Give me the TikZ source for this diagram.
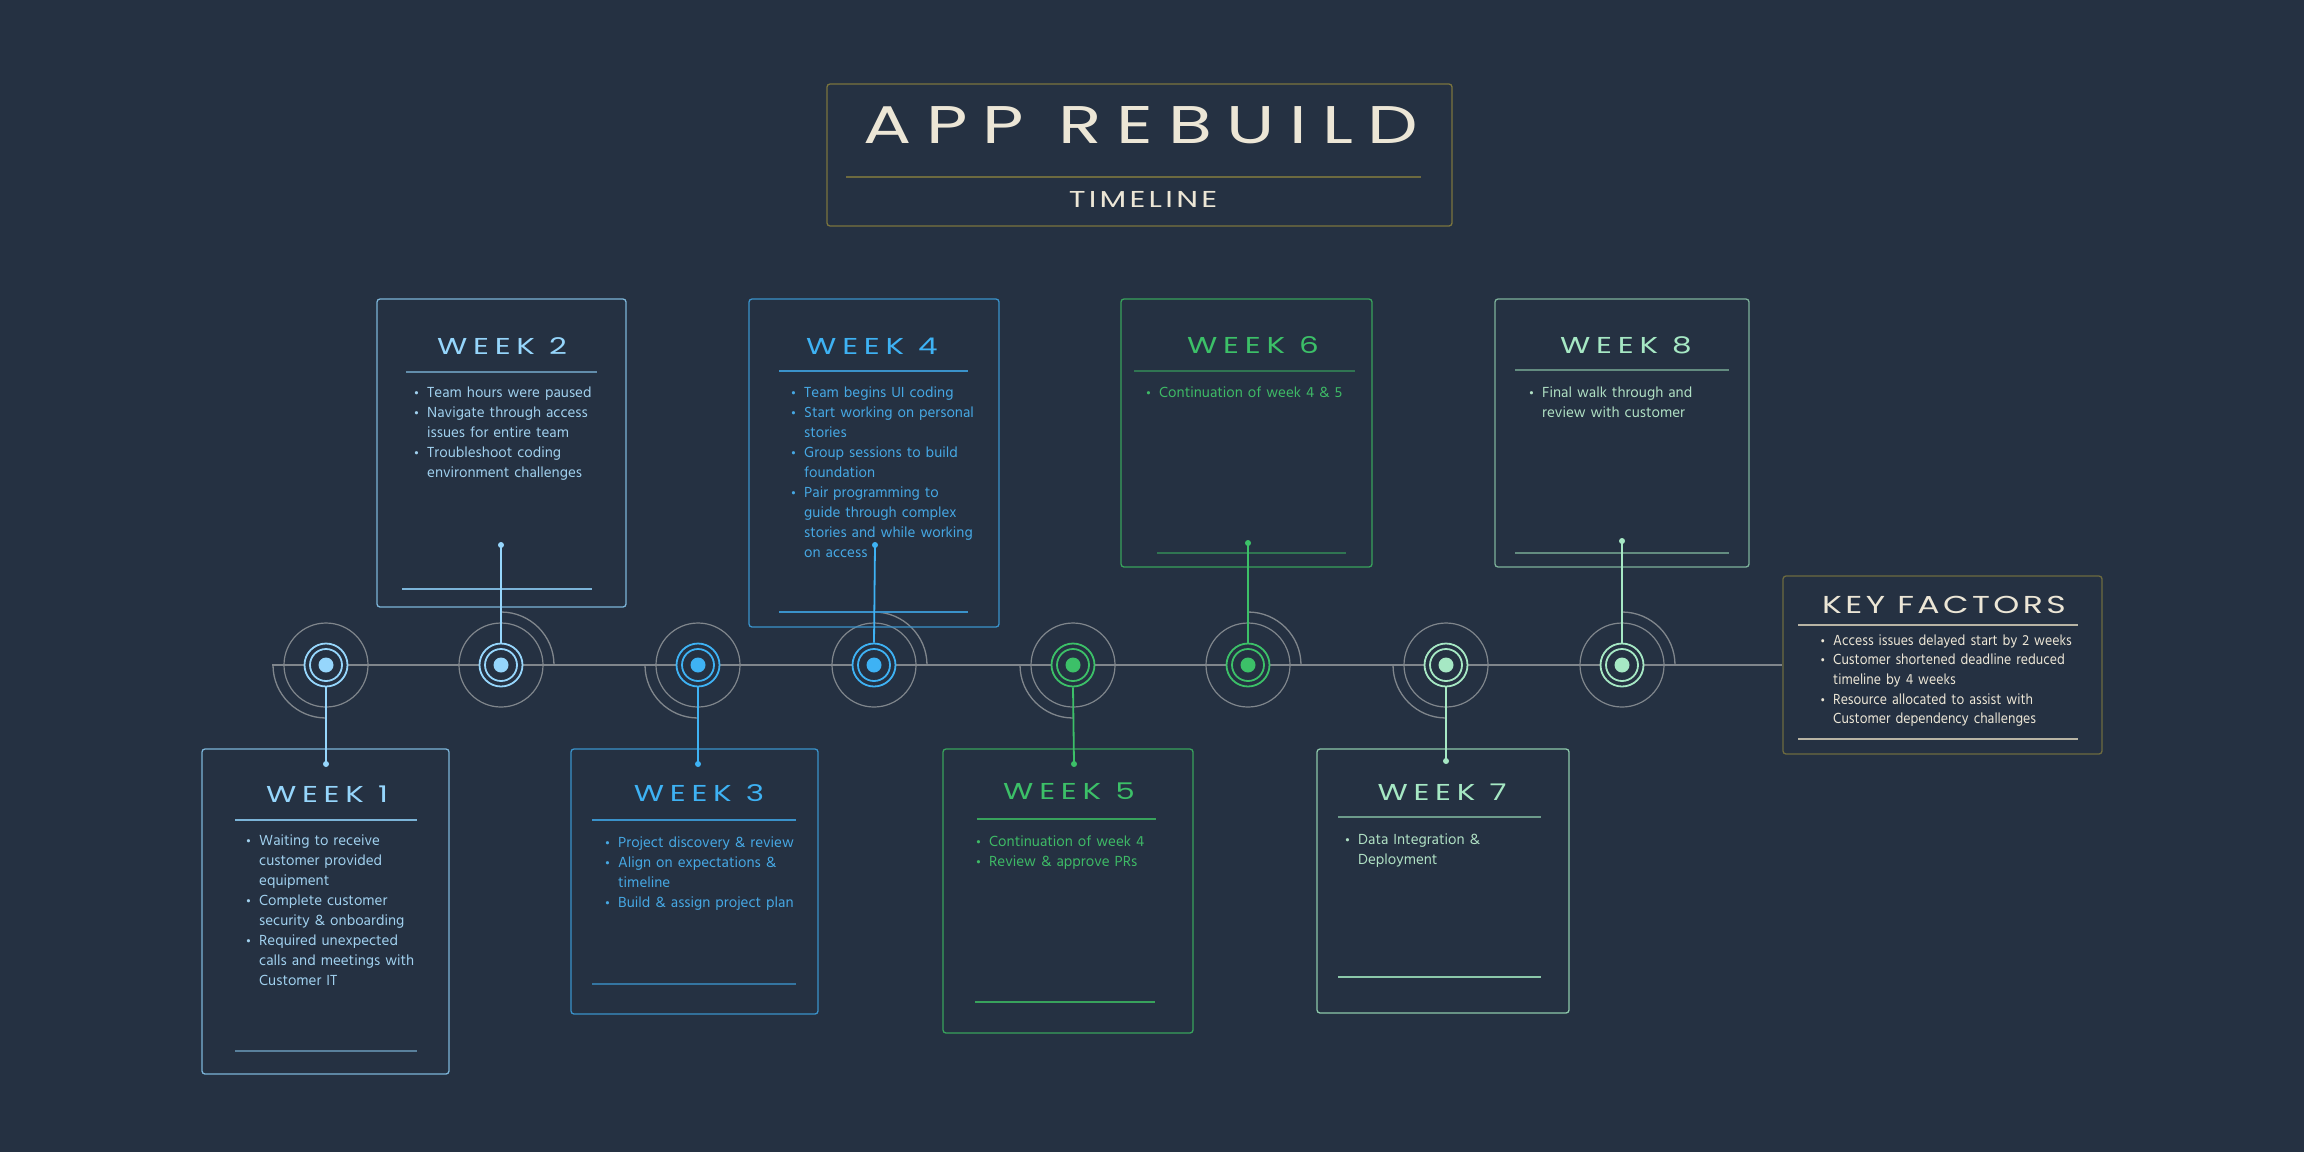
\documentclass[tikz,border=0pt]{standalone}
\usepackage{fontspec}
\setmainfont{Hind Siliguri}
\newfontfamily\bodyfont{Hind Siliguri}
\newfontfamily\keyfont{Hind Siliguri}[FakeStretch=0.92]
\newfontfamily\headfont{Poppins}[FakeStretch=1.35,LetterSpace=25]
\newfontfamily\subfont{Poppins}[FakeStretch=1.35,LetterSpace=14]
\newfontfamily\bigfont{Poppins}[FakeStretch=1.35,LetterSpace=28]
\usetikzlibrary{calc}

\definecolor{bg}{RGB}{37,49,66}
\definecolor{guide}{RGB}{128,134,140}
\definecolor{cream}{RGB}{236,230,214}
\definecolor{olive}{RGB}{122,116,62}
\definecolor{keyline}{RGB}{184,180,164}
% palette per pair of weeks: ring, text, border
\definecolor{ringA}{RGB}{150,214,252}\definecolor{textA}{RGB}{160,208,238}\definecolor{edgeA}{RGB}{124,180,216}
\definecolor{ringB}{RGB}{62,178,244}\definecolor{textB}{RGB}{70,168,228}\definecolor{edgeB}{RGB}{58,146,202}
\definecolor{ringC}{RGB}{60,192,104}\definecolor{textC}{RGB}{62,186,102}\definecolor{edgeC}{RGB}{56,162,92}
\definecolor{ringD}{RGB}{166,232,196}\definecolor{textD}{RGB}{176,224,196}\definecolor{edgeD}{RGB}{140,200,170}

\newcommand\bul{\leavevmode\llap{{\fontsize{12}{12}\selectfont\textbullet}\hspace{8pt}}}

\tikzset{
  guideline/.style={draw=guide, line width=1.3pt},
  card/.style={draw=#1, line width=1.3pt, rounded corners=3pt, inner sep=0pt},
  halo/.style={circle, draw=guide, line width=1.2pt, inner sep=0pt, minimum size=84pt},
  ringout/.style={circle, draw=#1, fill=bg, line width=1.8pt, inner sep=0pt, minimum size=43pt},
  ringin/.style={circle, draw=#1, line width=1.8pt, inner sep=0pt, minimum size=32pt},
  core/.style={circle, fill=#1, inner sep=0pt, minimum size=15pt},
  link/.style={draw=#1, line width=1.8pt},
  pin/.style={fill=#1},
  wkhead/.style={inner sep=0pt, font=\headfont\fontsize{23}{23}\selectfont},
  rule/.style={draw=#1, line width=1.2pt},
  items/.style={anchor=base west, inner sep=0pt, text width=220pt, align=left,
    font=\bodyfont\fontsize{15}{20}\selectfont},
}

\newcommand\milestone[4]{% name, x, colour, arc side
  \node[halo] (h#1) at (#2,665) {};
  \ifx#4b
    \draw[guideline] (h#1.center) ++(-53pt,0pt) arc[start angle=180,end angle=270,radius=53pt];
  \else
    \draw[guideline] (h#1.center) ++(53pt,0pt) arc[start angle=0,end angle=90,radius=53pt];
  \fi
  \node[ringout=#3] (m#1) at (#2,665) {};
  \node[ringin=#3] at (m#1) {};
  \node[core=#3] at (m#1) {};
}

\begin{document}
\begin{tikzpicture}[x=1pt,y=-1pt]
\fill[bg] (0,0) rectangle (2304,1152);
\useasboundingbox (0,0) rectangle (2304,1152);

% title block
\node[card=olive, minimum width=625pt, minimum height=142pt] (tb) at (1139.5,155) {};
\node[inner sep=0pt, text=cream, font=\bigfont\fontsize{53}{53}\selectfont] (title) at (1141,125.5) {APP REBUILD};
\draw[rule=olive!85!bg] (846,177) -- (1421,177);
\node[inner sep=0pt, text=cream, font=\subfont\fontsize{23}{23}\selectfont] (sub) at (1143,199) {TIMELINE};

% key factors
\node[card=olive!85!bg, minimum width=319pt, minimum height=178pt] (kf) at (1942.5,665) {};
\node[inner sep=0pt, text=cream, font=\subfont\fontsize{24.5}{24.5}\selectfont] (kft) at (1944,604.5) {KEY FACTORS};
\draw[rule=keyline] (1798,625) -- (2078,625);
\draw[rule=keyline] (1798,739) -- (2078,739);
\node[items, text=cream, text width=270pt, font=\keyfont\fontsize{15}{19.7}\selectfont] (kfi) at (1833,645)
  {\bul Access issues delayed start by 2 weeks\\
   \bul Customer shortened deadline reduced\\timeline by 4 weeks\\
   \bul Resource allocated to assist with\\Customer dependency challenges};

% timeline axis
\coordinate (t0) at (272,665);
\draw[guideline] (t0) -- (kf.west);

\milestone{1}{326}{ringA}{b}
\milestone{2}{501}{ringA}{t}
\milestone{3}{698}{ringB}{b}
\milestone{4}{874}{ringB}{t}
\milestone{5}{1073}{ringC}{b}
\milestone{6}{1248}{ringC}{t}
\milestone{7}{1446}{ringD}{b}
\milestone{8}{1622}{ringD}{t}

% week 1
\node[card=edgeA, minimum width=247pt, minimum height=325pt] (w1) at (325.5,911.5) {};
\node[wkhead, text=ringA] at (327,794) {WEEK 1};
\draw[rule=edgeA] (235,820) -- (417,820);
\draw[rule=edgeA!60!bg] (235,1051) -- (417,1051);
\node[items, text=textA] at (259,845)
  {\bul Waiting to receive\\customer provided\\equipment\\
   \bul Complete customer\\security \& onboarding\\
   \bul Required unexpected\\calls and meetings with\\Customer IT};
\coordinate (d1) at (326,764);
\draw[link=ringA] (m1.south) -- (d1);
\fill[pin=ringA] (d1) circle[radius=3pt];

% week 2
\node[card=edgeA, minimum width=249pt, minimum height=308pt] (w2) at (501.5,453) {};
\node[wkhead, text=ringA] at (502,346) {WEEK 2};
\draw[rule=edgeA!70!bg] (406,372) -- (597,372);
\draw[rule=edgeA] (402,589) -- (592,589);
\node[items, text=textA] at (427,397)
  {\bul Team hours were paused\\
   \bul Navigate through access\\issues for entire team\\
   \bul Troubleshoot coding\\environment challenges};
\coordinate (d2) at (501,545);
\draw[link=ringA] (m2.north) -- (d2);
\fill[pin=ringA] (d2) circle[radius=3pt];

% week 3
\node[card=edgeB, minimum width=247pt, minimum height=265pt] (w3) at (694.5,881.5) {};
\node[wkhead, text=ringB] at (699,793) {WEEK 3};
\draw[rule=edgeB] (592,820) -- (796,820);
\draw[rule=edgeB!70!bg] (592,984) -- (796,984);
\node[items, text=textB] at (618,847)
  {\bul Project discovery \& review\\
   \bul Align on expectations \&\\timeline\\
   \bul Build \& assign project plan};
\coordinate (d3) at (698,764);
\draw[link=ringB] (m3.south) -- (d3);
\fill[pin=ringB] (d3) circle[radius=3pt];

% week 4
\node[card=edgeB, minimum width=250pt, minimum height=328pt] (w4) at (874,463) {};
\node[wkhead, text=ringB] at (872,346) {WEEK 4};
\draw[rule=edgeB] (779,371) -- (968,371);
\draw[rule=edgeB] (779,612) -- (968,612);
\node[items, text=textB] at (804,397)
  {\bul Team begins UI coding\\
   \bul Start working on personal\\stories\\
   \bul Group sessions to build\\foundation\\
   \bul Pair programming to\\guide through complex\\stories and while working\\on access};
\coordinate (d4) at (875,545);
\draw[link=ringB] (m4.north) -- (d4);
\fill[pin=ringB] (d4) circle[radius=3pt];

% week 5
\node[card=edgeC, minimum width=250pt, minimum height=284pt] (w5) at (1068,891) {};
\node[wkhead, text=ringC] at (1069,791) {WEEK 5};
\draw[rule=edgeC] (977,819) -- (1156,819);
\draw[rule=edgeC] (975,1002) -- (1155,1002);
\node[items, text=textC] at (989,846)
  {\bul Continuation of week 4\\
   \bul Review \& approve PRs};
\coordinate (d5) at (1074,764);
\draw[link=ringC] (m5.south) -- (d5);
\fill[pin=ringC] (d5) circle[radius=3pt];

% week 6
\node[card=edgeC, minimum width=251pt, minimum height=268pt] (w6) at (1246.5,433) {};
\node[wkhead, text=ringC] at (1253,345) {WEEK 6};
\draw[rule=edgeC!60!bg] (1134,371) -- (1355,371);
\draw[rule=edgeC!60!bg] (1157,553) -- (1346,553);
\node[items, text=textC] at (1159,397)
  {\bul Continuation of week 4 \& 5};
\coordinate (d6) at (1248,543);
\draw[link=ringC] (m6.north) -- (d6);
\fill[pin=ringC] (d6) circle[radius=3pt];

% week 7
\node[card=edgeD, minimum width=252pt, minimum height=264pt] (w7) at (1443,881) {};
\node[wkhead, text=ringD] at (1442,792) {WEEK 7};
\draw[rule=edgeD!70!bg] (1338,817) -- (1541,817);
\draw[rule=edgeD] (1338,977) -- (1541,977);
\node[items, text=textD] at (1358,844)
  {\bul Data Integration \&\\Deployment};
\coordinate (d7) at (1446,761);
\draw[link=ringD] (m7.south) -- (d7);
\fill[pin=ringD] (d7) circle[radius=3pt];

% week 8
\node[card=edgeD!85!bg, minimum width=254pt, minimum height=268pt] (w8) at (1622,433) {};
\node[wkhead, text=ringD] at (1626,345) {WEEK 8};
\draw[rule=edgeD!60!bg] (1515,370) -- (1729,370);
\draw[rule=edgeD!60!bg] (1515,553) -- (1729,553);
\node[items, text=textD] at (1542,397)
  {\bul Final walk through and\\review with customer};
\coordinate (d8) at (1622,541);
\draw[link=ringD] (m8.north) -- (d8);
\fill[pin=ringD] (d8) circle[radius=3pt];
\end{tikzpicture}
\end{document}
